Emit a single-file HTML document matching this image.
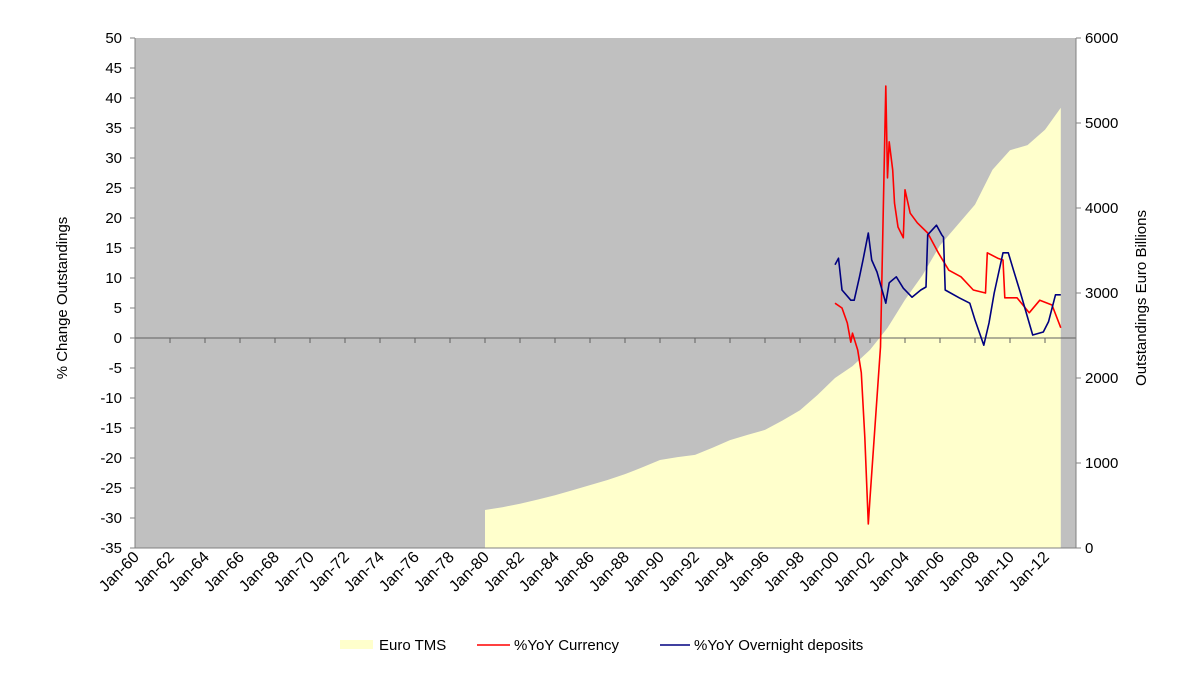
<!DOCTYPE html>
<html><head><meta charset="utf-8"><style>
body{margin:0;background:#fff}
svg{display:block;font-family:"Liberation Sans",Arial,sans-serif}
</style></head><body>
<svg id="chart" width="1178" height="678">
<rect x="135" y="38" width="941" height="510" fill="#c0c0c0"/>
<g id="tms"></g>
<g id="grid"></g>
<g id="lines"></g>
<g id="axes"></g>
<text transform="translate(67,298) rotate(-90)" text-anchor="middle" font-size="15" fill="#000">% Change Outstandings</text>
<text transform="translate(1146,298) rotate(-90)" text-anchor="middle" font-size="15" fill="#000">Outstandings Euro Billions</text>
<g>
<g><rect x="340" y="640" width="33" height="9" fill="#ffffcc"/><text x="379" y="650" font-size="15">Euro TMS</text></g>
<g><line x1="477" y1="645" x2="510" y2="645" stroke="#ff0000" stroke-width="1.5"/><text x="514" y="650" font-size="15">%YoY Currency</text></g>
<g><line x1="660" y1="645" x2="690" y2="645" stroke="#000080" stroke-width="1.5"/><text x="694" y="650" font-size="15">%YoY Overnight deposits</text></g>
</g>
</svg>
<script>
const tmsYears=[1980,1981,1982,1983,1984,1985,1986,1987,1988,1989,1990,1991,1992,1993,1994,1995,1996,1997,1998,1999,2000,2001,2002,2003,2004,2005,2006,2007,2008,2009,2010,2011,2012,2012.9];
const tmsValues=[447,480,520,570,620,680,740,800,870,950,1035,1070,1095,1180,1270,1330,1390,1500,1620,1800,2000,2140,2330,2590,2920,3210,3560,3800,4040,4450,4680,4740,4920,5180];
const curYears=[2000.0,2000.4,2000.7,2000.9,2001.0,2001.3,2001.5,2001.7,2001.9,2002.0,2002.6,2002.9,2003.0,2003.1,2003.3,2003.4,2003.6,2003.9,2004.0,2004.3,2004.7,2005.3,2005.9,2006.5,2007.2,2007.9,2008.6,2008.7,2009.3,2009.6,2009.7,2010.4,2011.1,2011.7,2012.4,2012.9];
const curValues=[5.8,5,2.5,-0.7,0.8,-2,-5.8,-16.5,-31,-26.7,-1.5,42,26.7,32.7,28,22.5,18.5,16.7,24.7,20.8,19.2,17.5,14.2,11.3,10.2,8,7.5,14.2,13.3,13,6.7,6.7,4.2,6.3,5.5,1.7];
const depYears=[2000.0,2000.2,2000.4,2000.9,2001.1,2001.4,2001.6,2001.9,2002.1,2002.4,2002.9,2003.1,2003.5,2003.9,2004.4,2004.9,2005.2,2005.3,2005.8,2006.1,2006.2,2006.3,2007.1,2007.7,2008.0,2008.5,2008.8,2009.1,2009.6,2009.9,2010.2,2010.6,2011.3,2011.9,2012.2,2012.6,2012.9];
const depValues=[12.2,13.3,8,6.3,6.3,10.2,13,17.5,13,11,5.8,9.2,10.2,8.3,6.8,8,8.5,17.2,18.8,17.2,16.8,8,6.7,5.8,3,-1.2,2.5,7.5,14.2,14.2,11.3,7.5,0.5,1,2.7,7.2,7.2];
const leftTicks=[50,45,40,35,30,25,20,15,10,5,0,-5,-10,-15,-20,-25,-30,-35];
const rightTicks=[0,1000,2000,3000,4000,5000,6000];
const xTickLabels=["Jan-60","Jan-62","Jan-64","Jan-66","Jan-68","Jan-70","Jan-72","Jan-74","Jan-76","Jan-78","Jan-80","Jan-82","Jan-84","Jan-86","Jan-88","Jan-90","Jan-92","Jan-94","Jan-96","Jan-98","Jan-00","Jan-02","Jan-04","Jan-06","Jan-08","Jan-10","Jan-12"];

const NS="http://www.w3.org/2000/svg";
const X=y=>135+(y-1960)*17.5;
const YL=v=>338-v*6;
const YR=v=>548-v*0.085;
function mk(tag,attrs,parent){const e=document.createElementNS(NS,tag);for(const k in attrs)e.setAttribute(k,attrs[k]);parent.appendChild(e);return e;}

let d="M"+X(tmsYears[0])+",548";
tmsYears.forEach((y,i)=>{d+=" L"+X(y).toFixed(1)+","+YR(tmsValues[i]).toFixed(1);});
d+=" L"+X(tmsYears[tmsYears.length-1]).toFixed(1)+",548 Z";
const area=mk("path",{d:d,fill:"#ffffcc"},document.getElementById("tms"));



const ax=document.getElementById("axes");
const zl=mk("line",{x1:135,y1:YL(0),x2:1076,y2:YL(0),stroke:"#606060","stroke-width":1},document.getElementById("grid"));


xTickLabels.forEach((l,i)=>{
  const x=X(1960+i*2);
  mk("line",{x1:x,y1:YL(0),x2:x,y2:YL(0)+5,stroke:"#606060"},document.getElementById("grid"));
  const t=mk("text",{transform:"translate("+(x+5)+",558) rotate(-45)","text-anchor":"end","font-size":"16",fill:"#000"},ax);
  t.textContent=l;
  
  
});

function line(ys,vs,color,name){
  const pts=ys.map((y,i)=>X(y).toFixed(1)+","+YL(vs[i]).toFixed(1)).join(" ");
  const p=mk("polyline",{points:pts,fill:"none",stroke:color,"stroke-width":1.6,"stroke-linejoin":"round"},document.getElementById("lines"));
  
  
}
line(curYears,curValues,"#ff0000","currency-yoy-line");
line(depYears,depValues,"#000080","overnight-deposits-yoy-line");

mk("line",{x1:135,y1:38,x2:135,y2:548,stroke:"#808080"},ax);
mk("line",{x1:1076,y1:38,x2:1076,y2:548,stroke:"#808080"},ax);
mk("line",{x1:135,y1:548,x2:1076,y2:548,stroke:"#808080"},ax);
leftTicks.forEach(v=>{
  const y=YL(v);
  mk("line",{x1:130,y1:y,x2:135,y2:y,stroke:"#808080"},ax);
  const t=mk("text",{x:122,y:y+5,"text-anchor":"end","font-size":"15"},ax);
  t.textContent=v;
  
  
});
rightTicks.forEach(v=>{
  const y=YR(v);
  mk("line",{x1:1076,y1:y,x2:1081,y2:y,stroke:"#808080"},ax);
  const t=mk("text",{x:1085,y:y+5,"text-anchor":"start","font-size":"15"},ax);
  t.textContent=v;
  
  
});
</script>
</body></html>
